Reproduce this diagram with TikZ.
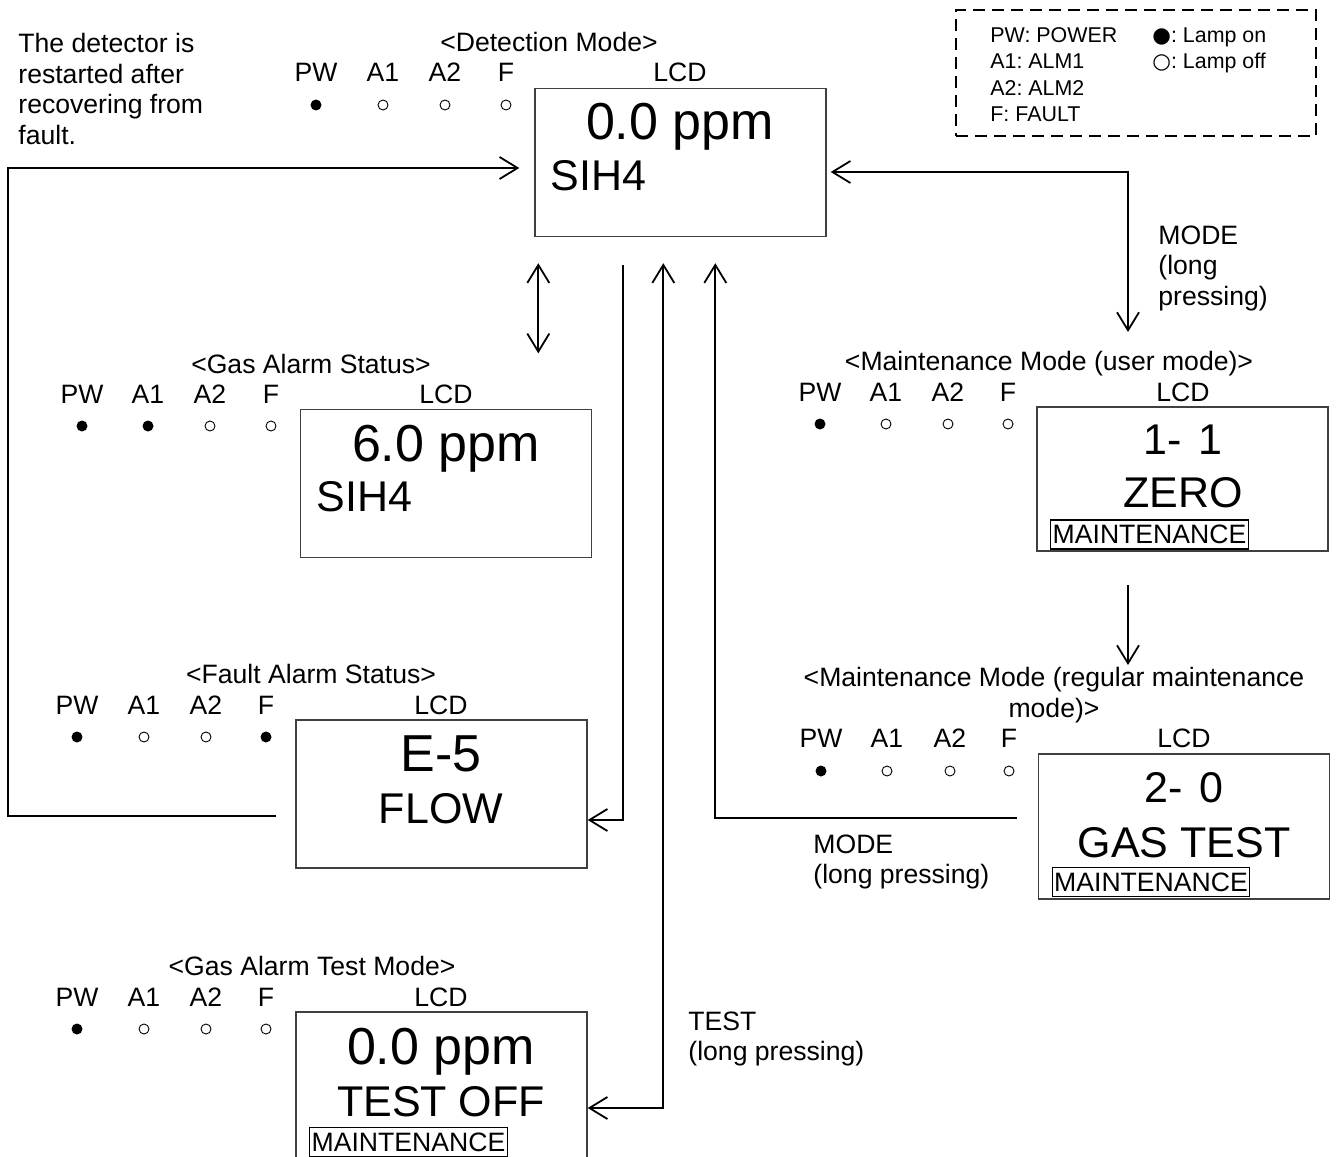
\documentclass[tikz,border=0pt]{standalone}
\usepackage{fontspec}
\setmainfont{Liberation Sans}
\newfontfamily\lampfont{DejaVu Sans}
\usetikzlibrary{arrows.meta}
\frenchspacing

\begin{document}
\begin{tikzpicture}[x=0.5pt,y=-0.5pt,>={Straight Barb[length=9pt,width=11pt]},
 lbl/.style={font=\fontsize{13.3}{15.25}\selectfont,inner sep=0},
 head/.style={lbl,anchor=base},
 keytext/.style={lbl,anchor=north west,align=left},
 lcd/.style={draw=black!75,line width=0.7pt,minimum width=145.5pt,minimum height=74pt,inner sep=0},
 big/.style={font=\fontsize{26}{30}\selectfont,inner sep=0,anchor=base},
 mid/.style={font=\fontsize{21.5}{25}\selectfont,inner sep=0,anchor=base},
 maint/.style={draw,line width=0.6pt,font=\fontsize{13.3}{15}\selectfont,inner xsep=1pt,inner ysep=2.5pt},
 lampon/.style={circle,fill,inner sep=0,minimum size=5.5pt},
 lampoff/.style={circle,draw,line width=0.45pt,inner sep=0,minimum size=5pt},
 legendtext/.style={font=\fontsize{10.7}{13.15}\selectfont,inner sep=0},
 conn/.style={line width=0.9pt}]
\useasboundingbox (0,0) rectangle (1337,1156);

\node[font=\fontsize{13.3}{15.25}\selectfont,inner sep=0,anchor=north west,align=left] (restart-note) at (18,33)
 {The detector is\\restarted after\\recovering from\\fault.};

% legend
\node[draw,dash pattern=on 6pt off 3.5pt,line width=0.9pt,minimum width=180pt,minimum height=63pt] (legend) at (1136,73) {};
\node[legendtext,anchor=north west,align=left] (legend-names) at (990,27.3) {PW: POWER\\A1: ALM1\\A2: ALM2\\F: FAULT};
\node[legendtext,anchor=base west] (legend-on) at (1152,42.7) {{\lampfont ●}: Lamp on};
\node[legendtext,anchor=base west] (legend-off) at (1152,68.7) {{\lampfont ○}: Lamp off};

% detection mode
\node[head] (det-title) at (549,52) {<Detection Mode>};
\foreach \lab/\x/\st [count=\i] in {PW/316/lampon,A1/383/lampoff,A2/445/lampoff,F/506/lampoff}{
 \node[head] (det-h\i) at (\x,82) {\lab};
 \node[\st] (det-l\i) at (\x,105) {};}
\node[head] (det-lcdlbl) at (680,82) {LCD};
\node[lcd] (det) at (680.5,162.5) {};
\node[big] (det-val) at (680,140) {0.0 ppm};
\node[mid,anchor=base west] (det-gas) at (550,190) {SIH4};

% gas alarm status
\node[head] (gas-title) at (311,373) {<Gas Alarm Status>};
\foreach \lab/\x/\st [count=\i] in {PW/82/lampon,A1/148/lampon,A2/210/lampoff,F/271/lampoff}{
 \node[head] (gas-h\i) at (\x,403) {\lab};
 \node[\st] (gas-l\i) at (\x,426) {};}
\node[head] (gas-lcdlbl) at (446,403) {LCD};
\node[lcd] (gas) at (446,483.5) {};
\node[big] (gas-val) at (446,461) {6.0 ppm};
\node[mid,anchor=base west] (gas-gas) at (316,511) {SIH4};

% fault alarm status
\node[head] (fault-title) at (311,683) {<Fault Alarm Status>};
\foreach \lab/\x/\st [count=\i] in {PW/77/lampon,A1/144/lampoff,A2/206/lampoff,F/266/lampon}{
 \node[head] (fault-h\i) at (\x,714) {\lab};
 \node[\st] (fault-l\i) at (\x,737) {};}
\node[head] (fault-lcdlbl) at (441,714) {LCD};
\node[lcd] (fault) at (441.5,794) {};
\node[big] (fault-code) at (441,771) {E-5};
\node[mid] (fault-msg) at (441,823) {FLOW};

% gas alarm test mode
\node[head] (test-title) at (312,975) {<Gas Alarm Test Mode>};
\foreach \lab/\x/\st [count=\i] in {PW/77/lampon,A1/144/lampoff,A2/206/lampoff,F/266/lampoff}{
 \node[head] (test-h\i) at (\x,1006) {\lab};
 \node[\st] (test-l\i) at (\x,1029) {};}
\node[head] (test-lcdlbl) at (441,1006) {LCD};
\node[lcd] (test) at (441.5,1086) {};
\node[big] (test-val) at (441,1064) {0.0 ppm};
\node[mid] (test-msg) at (441,1116) {TEST OFF};
\node[maint] (test-maint) at (408.5,1142) {MAINTENANCE};

% maintenance mode (user mode)
\node[head] (user-title) at (1049,370) {<Maintenance Mode (user mode)>};
\foreach \lab/\x/\st [count=\i] in {PW/820/lampon,A1/886/lampoff,A2/948/lampoff,F/1008/lampoff}{
 \node[head] (user-h\i) at (\x,401) {\lab};
 \node[\st] (user-l\i) at (\x,424) {};}
\node[head] (user-lcdlbl) at (1183,401) {LCD};
\node[lcd,minimum height=72pt] (user) at (1182.5,479) {};
\node[mid] (user-code) at (1183,454) {1-\hspace{0.4em}1};
\node[mid] (user-msg) at (1183,507) {ZERO};
\node[maint] (user-maint) at (1149.5,534.5) {MAINTENANCE};

% maintenance mode (regular maintenance mode)
\node[lbl,anchor=north,align=center] (reg-title) at (1054,667) {<Maintenance Mode (regular maintenance\\mode)>};
\foreach \lab/\x/\st [count=\i] in {PW/821/lampon,A1/887/lampoff,A2/950/lampoff,F/1009/lampoff}{
 \node[head] (reg-h\i) at (\x,747) {\lab};
 \node[\st] (reg-l\i) at (\x,771) {};}
\node[head] (reg-lcdlbl) at (1184,747) {LCD};
\node[lcd,minimum height=72.5pt] (reg) at (1184,826.5) {};
\node[mid] (reg-code) at (1184,802) {2-\hspace{0.4em}0};
\node[mid] (reg-msg) at (1184,857) {GAS TEST};
\node[maint] (reg-maint) at (1151,882) {MAINTENANCE};

% key labels
\node[keytext] (mode-key) at (1158,225.5) {MODE\\(long\\pressing)};
\node[keytext] (mode-back-key) at (813,834.5) {MODE\\(long pressing)};
\node[keytext] (test-key) at (688,1011.5) {TEST\\(long pressing)};

% connectors
\coordinate (loop-left) at (8,490);
\coordinate (user-in) at (1128,332);
\coordinate (user-out) at (1128,585);
\coordinate (reg-in) at (1128,665);
\draw[conn,->] ([xshift=-9.5pt,yshift=-11pt]fault.west) -| (loop-left) |- ([xshift=-7.5pt,yshift=-2.75pt]det.west);
\draw[conn,<->] ([xshift=2pt,yshift=-13pt]det.south west) -- ([xshift=2pt]det.south west |- gas-title.north);
\draw[conn,->] ([xshift=44.5pt,yshift=-14pt]det.south west) |- ([yshift=-13pt]fault.east);
\draw[conn,<->] ([xshift=64.5pt,yshift=-13pt]det.south west) |- ([yshift=-11pt]test.east);
\draw[conn,->] ([xshift=-10.5pt,yshift=4.25pt]reg.west) -| ([xshift=90.5pt,yshift=-13pt]det.south west);
\draw[conn,<->] ([xshift=2pt,yshift=-4.75pt]det.east) -| (user-in);
\draw[conn,->] (user-out) -- (reg-in);
\end{tikzpicture}
\end{document}
